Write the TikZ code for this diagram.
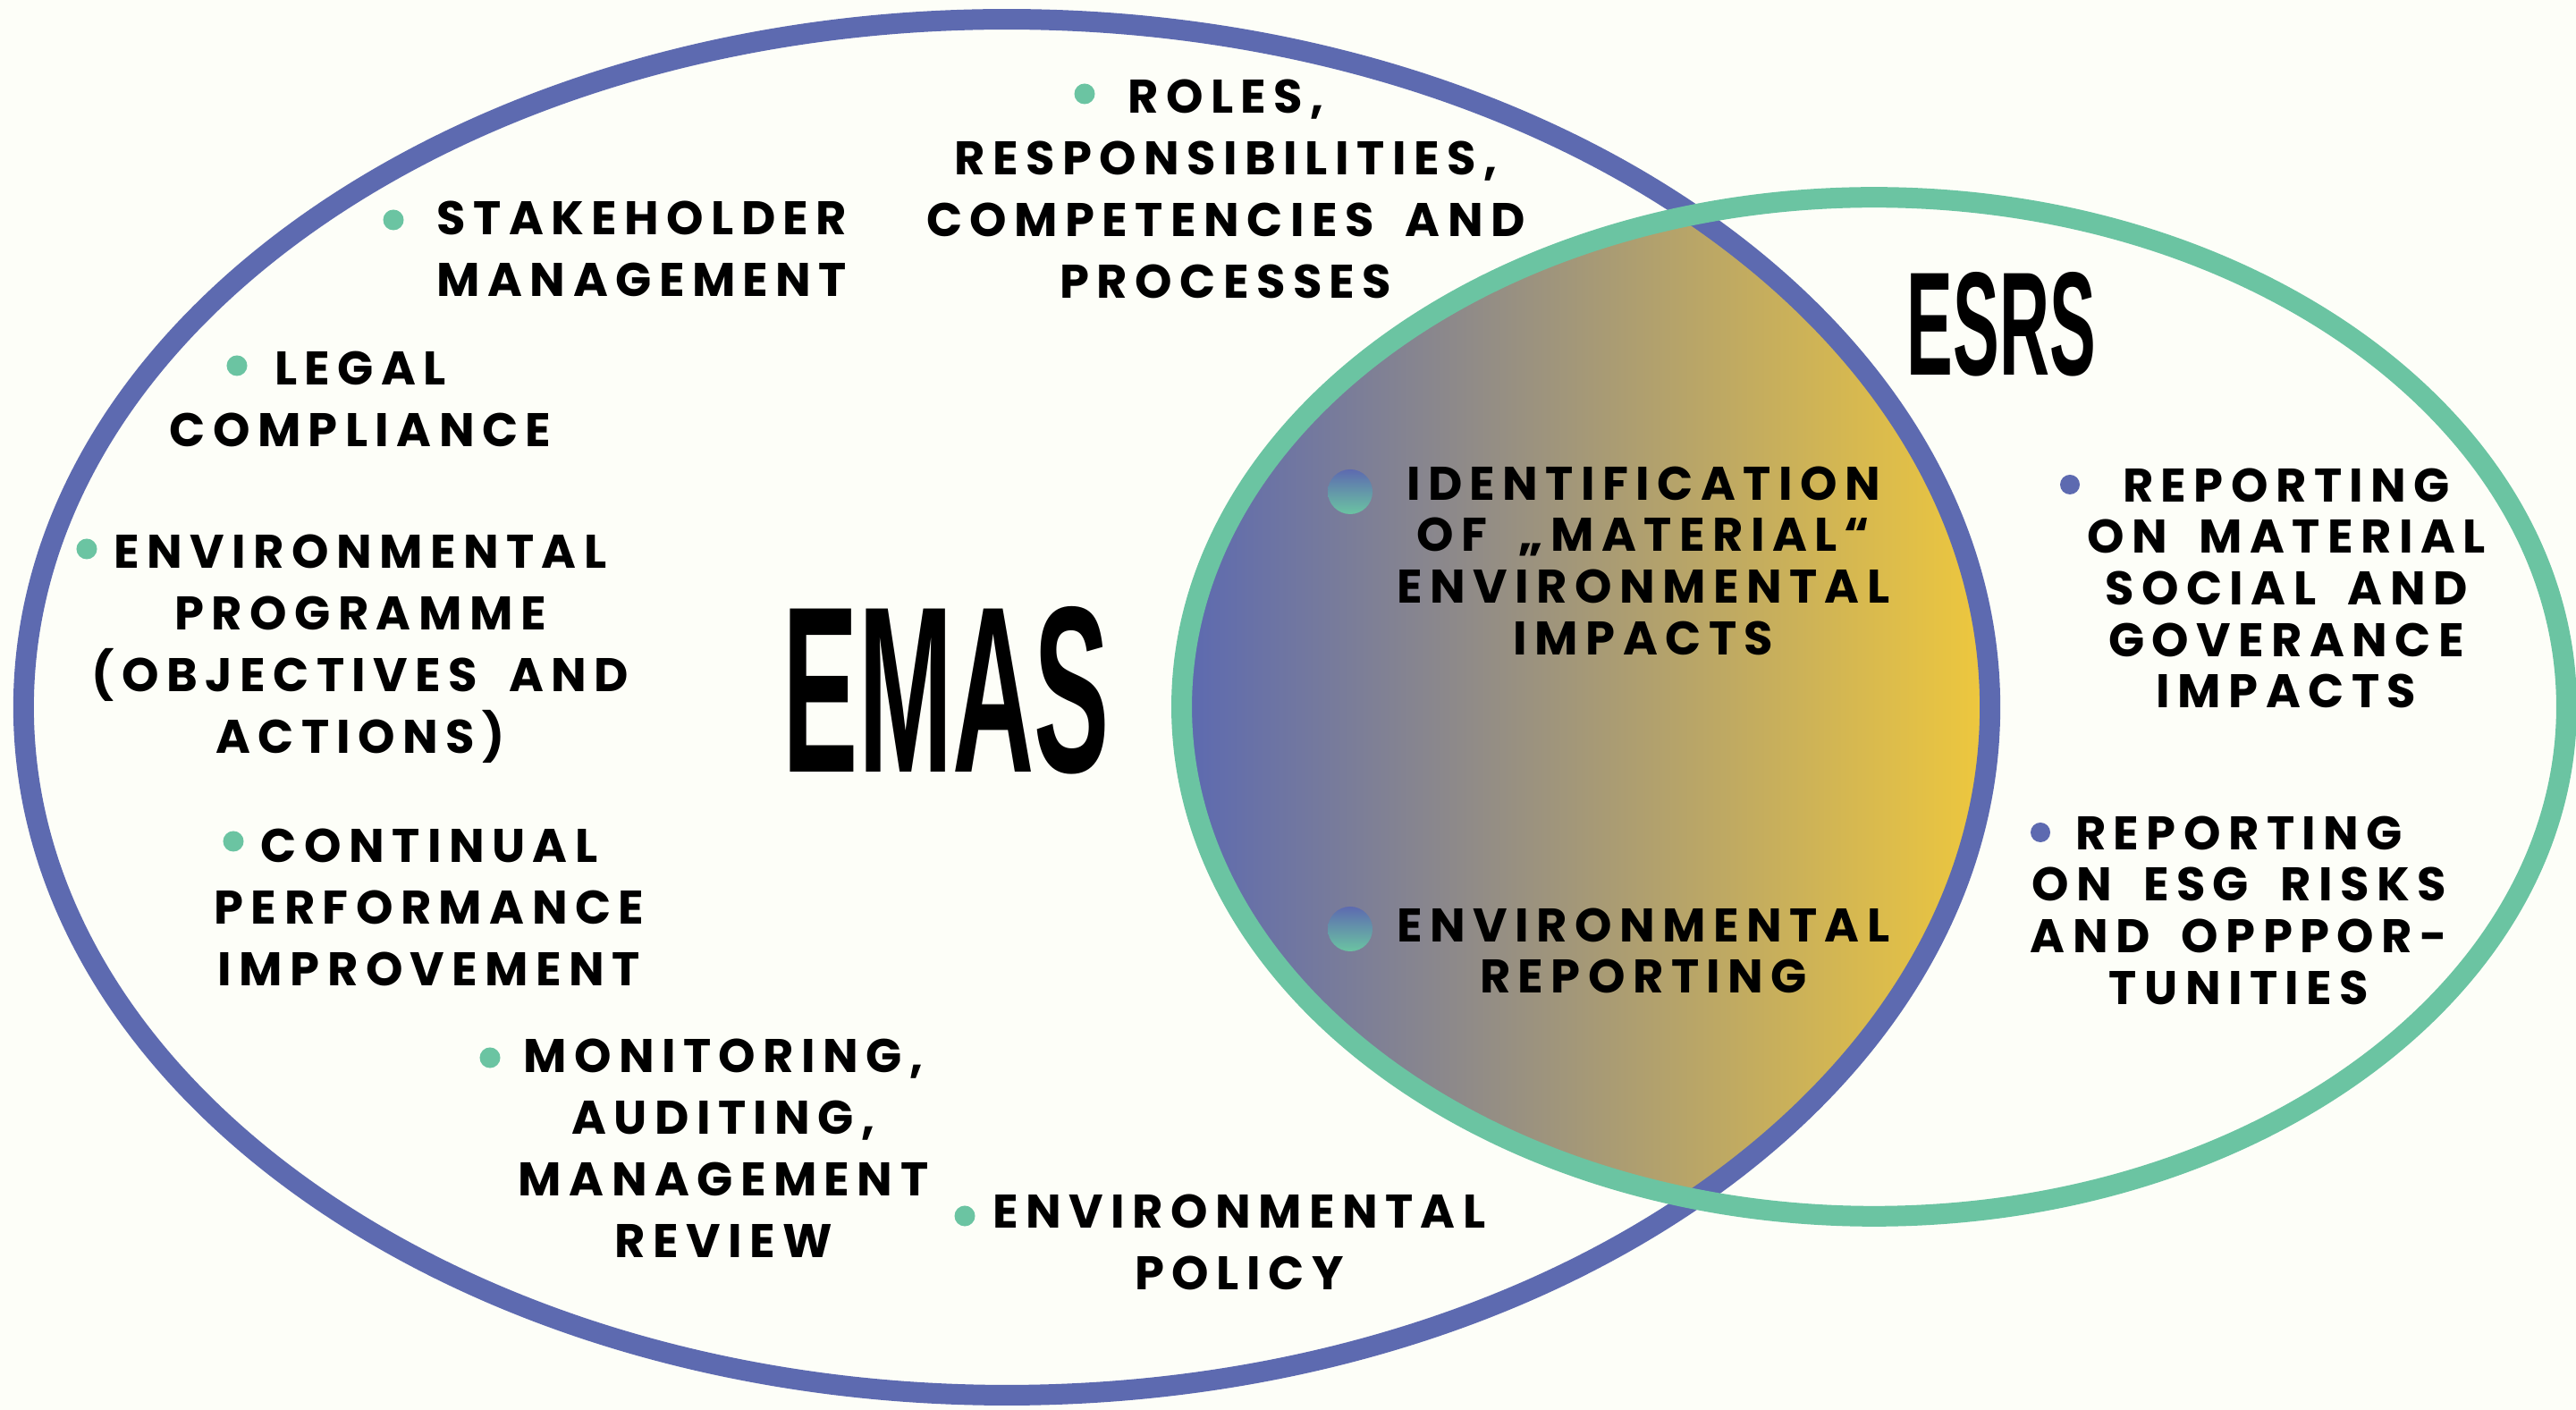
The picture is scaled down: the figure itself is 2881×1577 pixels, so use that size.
\documentclass[tikz,border=0pt]{standalone}
\usepackage{fontspec}
\newfontfamily\listfont{Poppins}[LetterSpace=16, WordSpace=1.8]
\newfontfamily\headfont{Liberation Sans}
\definecolor{emasblue}{HTML}{5D6AB0}
\definecolor{esrsgreen}{HTML}{6BC4A2}
\definecolor{gold}{HTML}{EDC73E}
\definecolor{paper}{HTML}{FDFEF8}

\begin{document}
\begin{tikzpicture}[x=0.01cm, y=-0.01cm,
    every node/.style = {inner sep=0, align=center},
    item/.style = {anchor=north, font=\listfont\bfseries\fontsize{15}{19.6}\selectfont},
    tight/.style = {anchor=north, font=\listfont\bfseries\fontsize{15}{16.4}\selectfont},
    greendot/.style = {circle, fill=esrsgreen, minimum size=0.23cm},
    bluedot/.style = {circle, fill=emasblue, minimum size=0.22cm},
    mixdot/.style = {circle, top color=emasblue, bottom color=esrsgreen, minimum size=0.5cm},
    title/.style = {anchor=base, font=\headfont\bfseries}]
    \useasboundingbox (0,0) rectangle (2881,1577);
    \fill[paper] (0,0) rectangle (2881,1577);

    \begin{scope}
      \clip (1126,791) ellipse [x radius=10.99cm, y radius=7.69cm];
      \clip (2096,790.5) ellipse [x radius=7.74cm, y radius=5.695cm];
      \shade[left color=emasblue, right color=gold] (1330,200) rectangle (2215,1380);
    \end{scope}
    \draw[emasblue, line width=0.23cm] (1126,791) ellipse [x radius=10.99cm, y radius=7.69cm];
    \draw[esrsgreen, line width=0.23cm] (2096,790.5) ellipse [x radius=7.74cm, y radius=5.695cm];

    \node (emas) at (1058.5, 864) [title] {\resizebox{3.65cm}{1.85cm}{EMAS}};
    \node (esrs) at (2238.5, 420) [title] {\resizebox{2.11cm}{1.15cm}{ESRS}};

    \node (roles) at (1371, 88) [item] {ROLES,\\RESPONSIBILITIES,\\COMPETENCIES AND\\PROCESSES};
    \node (stake) at (718, 224) [item] {STAKEHOLDER\\MANAGEMENT};
    \node (legal) at (403, 392) [item] {LEGAL\\COMPLIANCE};
    \node (programme) at (403, 597) [item] {ENVIRONMENTAL\\PROGRAMME\\(OBJECTIVES AND\\ACTIONS)};
    \node (continual) at (480, 926) [item] {CONTINUAL\\PERFORMANCE\\IMPROVEMENT};
    \node (monitoring) at (809, 1161) [item] {MONITORING,\\AUDITING,\\MANAGEMENT\\REVIEW};
    \node (policy) at (1386, 1335) [item] {ENVIRONMENTAL\\POLICY};

    \node (identify) at (1838, 521) [tight] {IDENTIFICATION\\OF „MATERIAL“\\ENVIRONMENTAL\\IMPACTS};
    \node (envreport) at (1838, 1015) [tight] {ENVIRONMENTAL\\REPORTING};

    \node (repmaterial) at (2557, 523) [tight] {REPORTING\\ON MATERIAL\\SOCIAL AND\\GOVERANCE\\IMPACTS};
    \node (repesg) at (2504, 912) [tight] {REPORTING\\ON ESG RISKS\\AND OPPPOR-\\TUNITIES};

    \node (dotroles) at (1213, 105) [greendot] {};
    \node (dotstake) at (440, 246) [greendot] {};
    \node (dotlegal) at (265, 409) [greendot] {};
    \node (dotprogramme) at (97, 614) [greendot] {};
    \node (dotcontinual) at (261, 941) [greendot] {};
    \node (dotmonitoring) at (548, 1183) [greendot] {};
    \node (dotpolicy) at (1079, 1360) [greendot] {};
    \node (dotidentify) at (1510, 550) [mixdot] {};
    \node (dotenvreport) at (1510, 1039) [mixdot] {};
    \node (dotrepmaterial) at (2315, 542) [bluedot] {};
    \node (dotrepesg) at (2282, 931) [bluedot] {};
\end{tikzpicture}
\end{document}
